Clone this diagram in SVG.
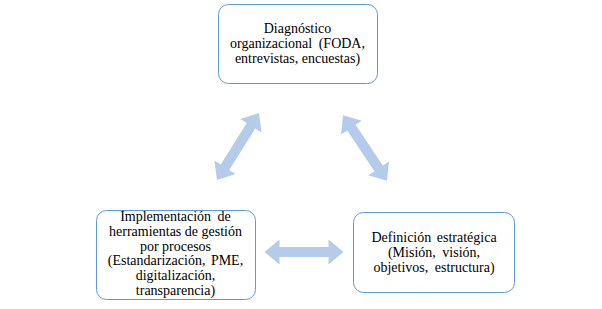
<svg xmlns="http://www.w3.org/2000/svg" width="602" height="309" viewBox="0 0 602 309">
<style>
.box{fill:#ffffff;stroke:#5b9bd5;stroke-width:1}
.arr{fill:#b4cce9}
</style>
<defs>
<path id="dbl" d="M-39.5,0 L-24.5,-12.5 L-24.5,-5 L24.5,-5 L24.5,-12.5 L39.5,0 L24.5,12.5 L24.5,5 L-24.5,5 L-24.5,12.5 Z"/>
</defs>
<rect width="602" height="309" fill="#ffffff"/>
<g id="connectors" class="arr">
<use href="#dbl" transform="translate(238,146.5) rotate(-57.9)"/>
<use href="#dbl" transform="translate(365,148) rotate(56.3)"/>
<use href="#dbl" transform="translate(304,252)"/>
</g>
<g font-family="Liberation Serif, Times New Roman, serif" font-size="14" fill="#000" text-anchor="middle">
<g id="diagnostico">
<rect class="box" x="218.5" y="4.5" width="159" height="79" rx="10"/>
<text x="297.5" y="33">Diagnóstico</text>
<text x="297.5" y="48" word-spacing="3">organizacional (FODA,</text>
<text x="297.5" y="63">entrevistas, encuestas)</text>
</g>
<g id="implementacion">
<rect class="box" x="96.5" y="210.5" width="159" height="89" rx="10"/>
<text x="175.5" y="221" word-spacing="3">Implementación de</text>
<text x="175.5" y="236">herramientas de gestión</text>
<text x="175.5" y="250.5">por procesos</text>
<text x="175.5" y="265" word-spacing="2">(Estandarización, PME,</text>
<text x="175.5" y="280">digitalización,</text>
<text x="175.5" y="294.5">transparencia)</text>
</g>
<g id="definicion">
<rect class="box" x="353.5" y="212.5" width="161" height="80" rx="10"/>
<text x="434" y="242" word-spacing="2">Definición estratégica</text>
<text x="434" y="257" word-spacing="3">(Misión, visión,</text>
<text x="434" y="272" word-spacing="3">objetivos, estructura)</text>
</g>
</g>
</svg>
